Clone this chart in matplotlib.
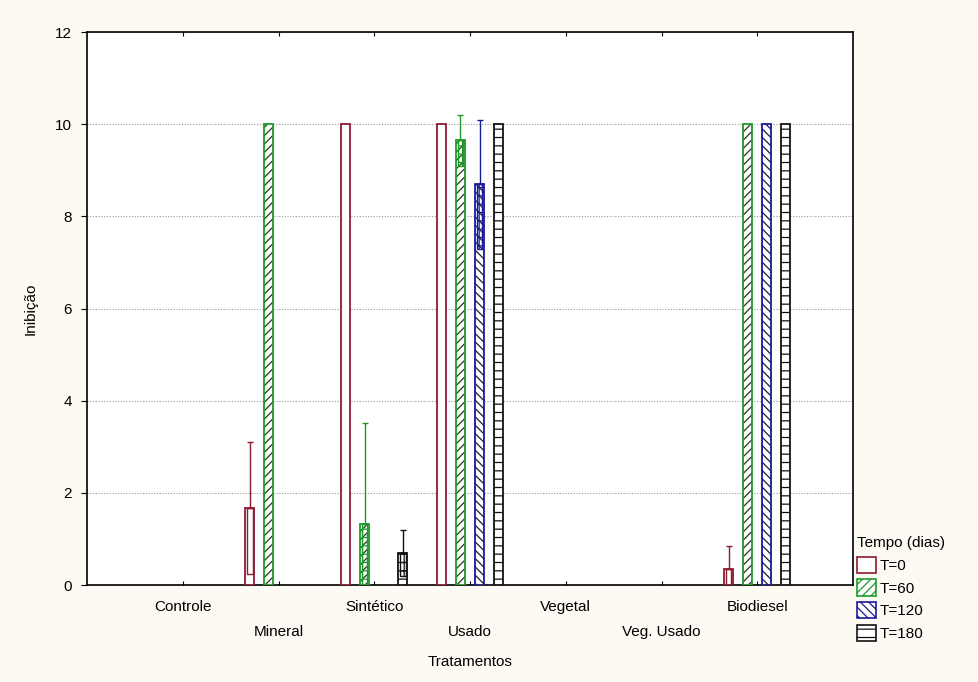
import matplotlib
matplotlib.use("Agg")
import matplotlib.pyplot as plt
from matplotlib.patches import Patch, Rectangle
import numpy as np

plt.rcParams['font.family'] = ['Liberation Sans', 'DejaVu Sans']
plt.rcParams['hatch.linewidth'] = 0.9

categories = ['Controle', 'Mineral', 'Sintético', 'Usado', 'Vegetal', 'Veg. Usado', 'Biodiesel']
series_names = ['T=0', 'T=60', 'T=120', 'T=180']
t0 = [0, 1.67, 10, 10, 0, 0, 0.35]
t60 = [0, 10, 1.32, 9.65, 0, 0, 10]
t120 = [0, 0, 0, 8.7, 0, 0, 10]
t180 = [0, 0, 0.7, 10, 0, 0, 10]
err0 = [0, 1.43, 0, 0, 0, 0, 0.5]
err60 = [0, 0, 2.2, 0.55, 0, 0, 0]
err120 = [0, 0, 0, 1.4, 0, 0, 0]
err180 = [0, 0, 0.5, 0, 0, 0, 0]
yticks = [0, 2, 4, 6, 8, 10, 12]

values = [t0, t60, t120, t180]
errors = [err0, err60, err120, err180]
edge_colors = ['#8b1a2e', '#1f9a2a', '#1a1a9a', '#111111']
hatch_colors = ['#8b1a2e', '#1e3a1e', '#1a1a40', '#111111']
hatches = [None, '////', '\\\\\\\\', '--']
offsets = [-0.30, -0.10, 0.10, 0.30]
width = 0.094

fig = plt.figure(figsize=(9.79, 6.82), dpi=100, facecolor='#fcfaf2')
ax = fig.add_axes([0.0889, 0.1422, 0.7824, 0.8108])
ax.set_facecolor('white')

x = np.arange(1, len(categories) + 1)
for vals, errs, ec, hc, h, off in zip(values, errors, edge_colors, hatch_colors, hatches, offsets):
    vals = np.asarray(vals, dtype=float)
    keep = vals > 0
    xs = (x + off)[keep]
    vs = vals[keep]
    es = np.asarray(errs, dtype=float)[keep]
    ax.bar(xs, vs, width=width, color='white', edgecolor=hc, hatch=h, linewidth=0, zorder=3)
    ax.bar(xs, vs, width=width, fill=False, edgecolor=ec, linewidth=1.3, zorder=4)
    for xi, v, e in zip(xs, vs, es):
        if e > 0:
            lo = max(0, v - e)
            ax.add_patch(Rectangle((xi - width * 0.3, lo), width * 0.6, v - lo,
                                   facecolor='none', edgecolor=ec, hatch='++' if h else None,
                                   linewidth=1.0, zorder=5))
            ax.errorbar([xi], [v], yerr=[[0], [e]], fmt='none', ecolor=ec,
                        elinewidth=1.0, capsize=2, capthick=1.0, zorder=5)

ax.set_xlim(0, len(categories) + 1)
ax.set_ylim(0, 12)
ax.set_yticks(yticks)
ax.set_yticklabels([str(v) for v in yticks], fontsize=11)
ax.set_xticks(x)
ax.set_xticklabels([c if i % 2 == 0 else '\n' + c for i, c in enumerate(categories)],
                   fontsize=11, linespacing=1.95)
ax.tick_params(axis='x', direction='in', length=3, top=True, bottom=True, pad=11)
ax.tick_params(axis='y', direction='out', length=4, pad=7)
for s in ax.spines.values():
    s.set_linewidth(1.2)
    s.set_color('black')
ax.yaxis.grid(True, linestyle=(0, (1, 1.5)), color='#999999', linewidth=0.8, zorder=0)
ax.set_axisbelow(True)
ax.set_xlabel('Tratamentos', fontsize=11, labelpad=12)
ax.set_ylabel('Inibição', fontsize=11, labelpad=12)

handles = [Patch(facecolor='white', edgecolor=ec, hatch=h, linewidth=1.2)
           for ec, h in zip(edge_colors, hatches)]
fig.legend(handles, series_names, title='Tempo (dias)', loc='upper left',
           bbox_to_anchor=(0.872, 0.218), frameon=False, fontsize=11,
           title_fontsize=11, handlelength=1.25, handleheight=1.25,
           handletextpad=0.25, labelspacing=0.42, borderaxespad=0, borderpad=0.2,
           alignment='left')

fig.savefig('out.png', dpi=100, facecolor=fig.get_facecolor())
